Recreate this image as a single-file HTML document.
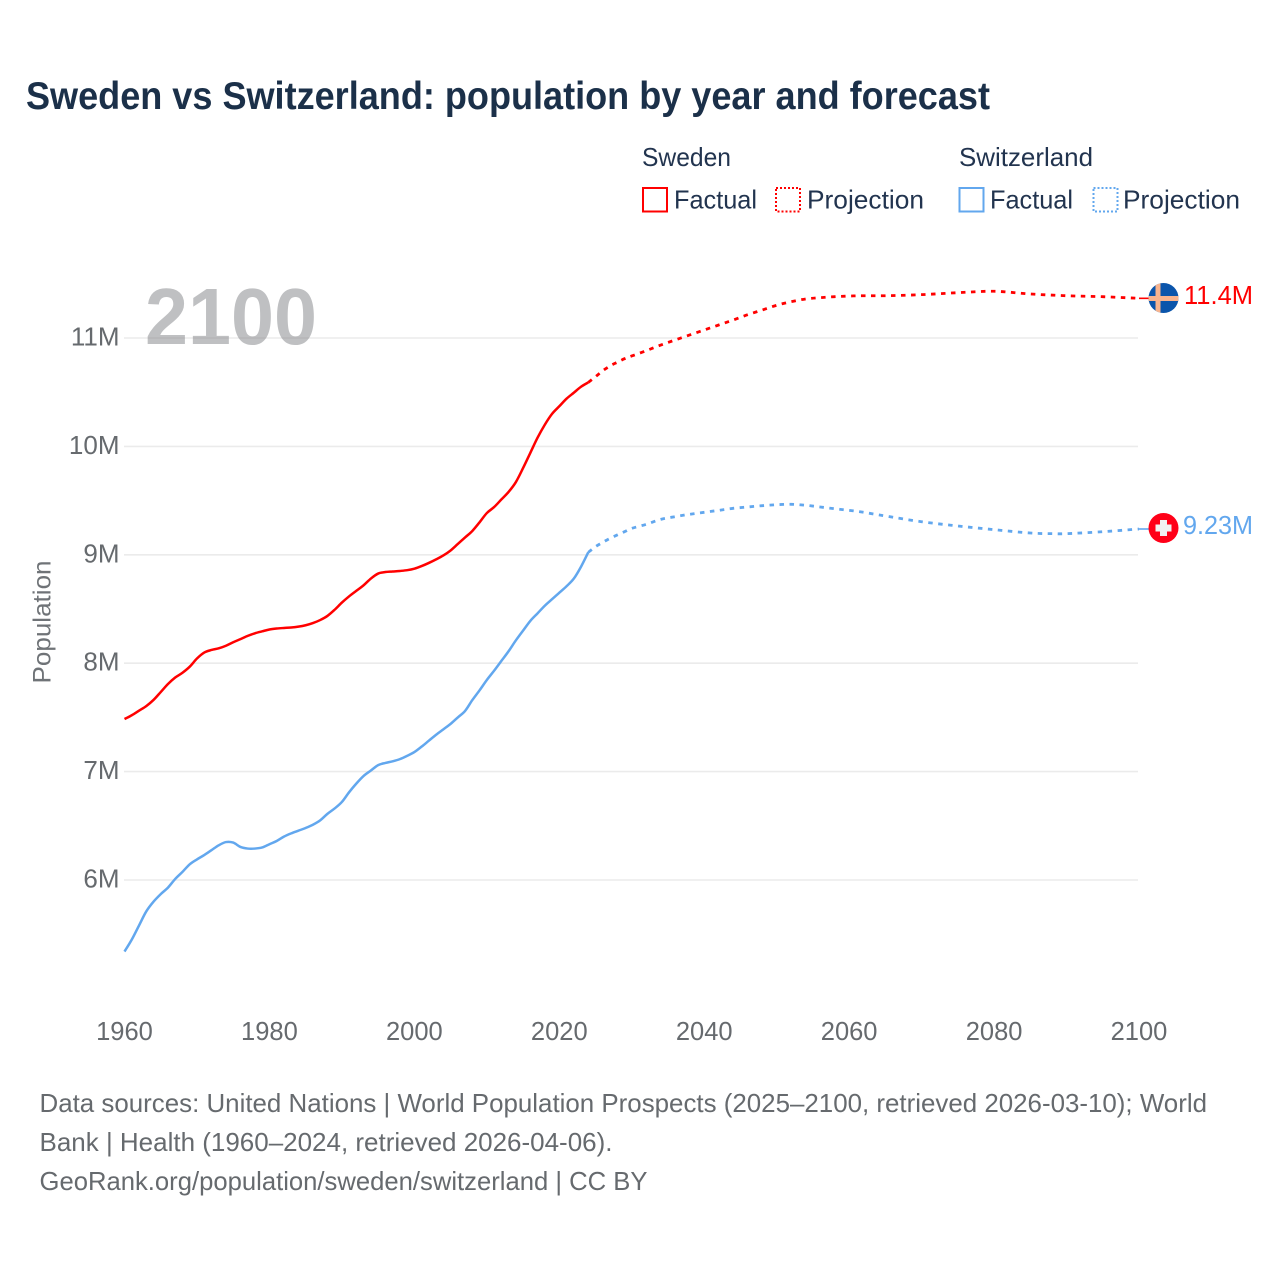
<!DOCTYPE html>
<html lang="en">
<head>
<meta charset="utf-8">
<title>Sweden vs Switzerland: population by year and forecast</title>
<style>
html,body{margin:0;padding:0;background:#fff;width:1280px;height:1280px;overflow:hidden}
svg{display:block}
text{font-family:"Liberation Sans",sans-serif}
.leg{font-size:26px;fill:#22344f}
.foot{font-size:26px;fill:#666a6e}
</style>
</head>
<body>
<svg id="chart" xmlns="http://www.w3.org/2000/svg" width="1280" height="1280" viewBox="0 0 1280 1280">
  <rect x="0" y="0" width="1280" height="1280" fill="#fff"/>
  <text x="26" y="109" font-size="38.5" font-weight="700" fill="#1b3049" textLength="964" lengthAdjust="spacingAndGlyphs">Sweden vs Switzerland: population by year and forecast</text>

  <g>
    <text class="leg" x="642" y="166" textLength="89" lengthAdjust="spacingAndGlyphs">Sweden</text>
    <text class="leg" x="959" y="166" textLength="134" lengthAdjust="spacingAndGlyphs">Switzerland</text>
    <g>
      <rect x="643" y="188" width="24" height="23.5" fill="none" stroke="#ff0000" stroke-width="2"/>
      <text class="leg" x="674" y="208.500" textLength="83" lengthAdjust="spacingAndGlyphs">Factual</text>
    </g>
    <g>
      <rect x="776" y="188" width="24" height="23.5" fill="none" stroke="#ff0000" stroke-width="2" stroke-dasharray="2 2"/>
      <text class="leg" x="807" y="208.500" textLength="117" lengthAdjust="spacingAndGlyphs">Projection</text>
    </g>
    <g>
      <rect x="959.5" y="188" width="24" height="23.5" fill="none" stroke="#62a7ee" stroke-width="2"/>
      <text class="leg" x="990" y="208.500" textLength="83" lengthAdjust="spacingAndGlyphs">Factual</text>
    </g>
    <g>
      <rect x="1093.5" y="188" width="24" height="23.5" fill="none" stroke="#62a7ee" stroke-width="2" stroke-dasharray="2 2"/>
      <text class="leg" x="1123" y="208.500" textLength="117" lengthAdjust="spacingAndGlyphs">Projection</text>
    </g>
  </g>

  <g id="grid"></g>
  <g id="yticks"></g>
  <g id="xticks"></g>
  <text transform="translate(50.5,622) rotate(-90)" text-anchor="middle" font-size="25" fill="#6f7377" textLength="123" lengthAdjust="spacingAndGlyphs">Population</text>

  <text x="145" y="344" font-size="80" font-weight="700" fill="#7f8185" fill-opacity="0.5" textLength="172" lengthAdjust="spacingAndGlyphs">2100</text>

  <g id="series"></g>

  <g>
    <clipPath id="clip-se"><circle cx="1163.500" cy="298" r="15"/></clipPath>
    <g clip-path="url(#clip-se)">
      <rect x="1148" y="283" width="31" height="30" fill="#0b55ab"/>
      <rect x="1155.5" y="283" width="5" height="30" fill="#f8b48e"/>
      <rect x="1148" y="296" width="31" height="5" fill="#f8b48e"/>
    </g>
  </g>
  <text x="1184" y="304" font-size="25.500" fill="#ff0000" textLength="69" lengthAdjust="spacingAndGlyphs">11.4M</text>

  <g>
    <circle cx="1163.5" cy="528" r="15" fill="#ff0018"/>
    <rect x="1160" y="520" width="7" height="16" fill="#f1f1f1"/>
    <rect x="1155.5" y="524.5" width="16" height="7" fill="#f1f1f1"/>
  </g>
  <text x="1183" y="534" font-size="25.500" fill="#62a7ee" textLength="70" lengthAdjust="spacingAndGlyphs">9.23M</text>

  <g>
    <text class="foot" x="39.5" y="1112" textLength="1167.5" lengthAdjust="spacingAndGlyphs">Data sources: United Nations | World Population Prospects (2025–2100, retrieved 2026-03-10); World</text>
    <text class="foot" x="39.5" y="1151" textLength="573" lengthAdjust="spacingAndGlyphs">Bank | Health (1960–2024, retrieved 2026-04-06).</text>
    <text class="foot" x="39.5" y="1190" textLength="608" lengthAdjust="spacingAndGlyphs">GeoRank.org/population/sweden/switzerland | CC BY</text>
  </g>
</svg>
<script>
const yTickValues = [6, 7, 8, 9, 10, 11];
const yTickLabels = ["6M", "7M", "8M", "9M", "10M", "11M"];
const xTickValues = [1960, 1980, 2000, 2020, 2040, 2060, 2080, 2100];
const xTickLabels = ["1960", "1980", "2000", "2020", "2040", "2060", "2080", "2100"];

const factualYears = [1960,1961,1962,1963,1964,1965,1966,1967,1968,1969,1970,1971,1972,1973,1974,1975,1976,1977,1978,1979,1980,1981,1982,1983,1984,1985,1986,1987,1988,1989,1990,1991,1992,1993,1994,1995,1996,1997,1998,1999,2000,2001,2002,2003,2004,2005,2006,2007,2008,2009,2010,2011,2012,2013,2014,2015,2016,2017,2018,2019,2020,2021,2022,2023,2024];
const swedenFactual = [7.485,7.52,7.562,7.604,7.661,7.734,7.808,7.868,7.912,7.968,8.043,8.098,8.122,8.137,8.161,8.193,8.222,8.252,8.276,8.294,8.311,8.32,8.325,8.329,8.337,8.35,8.37,8.398,8.436,8.493,8.559,8.617,8.668,8.719,8.781,8.827,8.841,8.846,8.851,8.858,8.872,8.896,8.925,8.958,8.994,9.04,9.1,9.16,9.22,9.3,9.385,9.44,9.51,9.58,9.67,9.8,9.94,10.08,10.2,10.3,10.37,10.44,10.495,10.55,10.59];
const switzerlandFactual = [5.34,5.45,5.58,5.71,5.8,5.87,5.93,6.01,6.075,6.145,6.19,6.23,6.275,6.32,6.35,6.345,6.305,6.29,6.29,6.3,6.33,6.36,6.4,6.43,6.455,6.48,6.51,6.55,6.61,6.66,6.72,6.81,6.89,6.96,7.01,7.06,7.08,7.095,7.115,7.145,7.18,7.23,7.285,7.34,7.39,7.44,7.5,7.56,7.66,7.75,7.845,7.93,8.02,8.11,8.21,8.3,8.39,8.46,8.53,8.59,8.65,8.71,8.78,8.89,9.023];

const swedenProjectionYears = [2024,2025,2026,2027,2028,2029,2030,2032,2034,2036,2038,2040,2042,2044,2046,2048,2050,2052,2054,2056,2058,2060,2062,2065,2070,2075,2080,2085,2090,2095,2100];
const swedenProjection = [10.59,10.643,10.698,10.742,10.776,10.809,10.834,10.883,10.935,10.982,11.028,11.074,11.12,11.166,11.215,11.258,11.302,11.335,11.36,11.372,11.381,11.387,11.39,11.39,11.4,11.418,11.431,11.406,11.39,11.381,11.366];
const switzerlandProjectionYears = [2024,2025,2026,2027,2028,2029,2030,2032,2034,2036,2038,2040,2042,2044,2046,2048,2050,2052,2054,2056,2058,2060,2062,2065,2070,2075,2080,2085,2088,2090,2095,2100];
const switzerlandProjection = [9.023,9.075,9.115,9.152,9.183,9.213,9.244,9.281,9.327,9.352,9.374,9.392,9.41,9.429,9.441,9.453,9.462,9.466,9.457,9.441,9.425,9.41,9.392,9.358,9.305,9.266,9.232,9.201,9.195,9.195,9.213,9.238];

const SVGNS = "http://www.w3.org/2000/svg";
function xScale(year) { return 124.5 + (year - 1960) * (1139 - 124.5) / 140; }
function yScale(v) { return 880 - (v - 6) * 108.4; }
function linePath(years, values) {
  const pts = years.map(function (yr, i) { return [xScale(yr), yScale(values[i])]; });
  let d = "M" + pts[0][0].toFixed(2) + " " + pts[0][1].toFixed(2);
  for (let i = 0; i < pts.length - 1; i++) {
    const p0 = pts[Math.max(i - 1, 0)], p1 = pts[i], p2 = pts[i + 1], p3 = pts[Math.min(i + 2, pts.length - 1)];
    const c1x = p1[0] + (p2[0] - p0[0]) / 6, c1y = p1[1] + (p2[1] - p0[1]) / 6;
    const c2x = p2[0] - (p3[0] - p1[0]) / 6, c2y = p2[1] - (p3[1] - p1[1]) / 6;
    d += "C" + c1x.toFixed(2) + " " + c1y.toFixed(2) + " " + c2x.toFixed(2) + " " + c2y.toFixed(2) + " " + p2[0].toFixed(2) + " " + p2[1].toFixed(2);
  }
  return d;
}
function drawLine(name, years, values, color, dash) {
  const p = document.createElementNS(SVGNS, "path");
  
  
  p.setAttribute("d", linePath(years, values));
  p.setAttribute("fill", "none");
  p.setAttribute("stroke", color);
  p.setAttribute("stroke-width", dash ? "2.8" : "2.5");
  p.setAttribute("stroke-linejoin", "round");
  if (dash) p.setAttribute("stroke-dasharray", dash);
  document.getElementById("series").appendChild(p);
}
function drawConnector(name, year, value, color) {
  const c = document.createElementNS(SVGNS, "line");
  
  
  c.setAttribute("x1", xScale(year));
  c.setAttribute("x2", xScale(year) + 10);
  c.setAttribute("y1", yScale(value));
  c.setAttribute("y2", yScale(value));
  c.setAttribute("stroke", color);
  c.setAttribute("stroke-width", "1.6");
  document.getElementById("series").appendChild(c);
}

yTickValues.forEach(function (v, i) {
  const g = document.createElementNS(SVGNS, "line");
  
  
  g.setAttribute("x1", "124");
  g.setAttribute("x2", "1138");
  g.setAttribute("y1", yScale(v));
  g.setAttribute("y2", yScale(v));
  g.setAttribute("stroke", "#ebebeb");
  g.setAttribute("stroke-width", "1.6");
  document.getElementById("grid").appendChild(g);

  const t = document.createElementNS(SVGNS, "text");
  
  
  t.setAttribute("x", "119.5");
  t.setAttribute("y", yScale(v) + 7.5);
  t.setAttribute("text-anchor", "end");
  t.setAttribute("font-size", "26");
  t.setAttribute("fill", "#666a6e");
  t.textContent = yTickLabels[i];
  document.getElementById("yticks").appendChild(t);
});

xTickValues.forEach(function (yr, i) {
  const t = document.createElementNS(SVGNS, "text");
  
  
  t.setAttribute("x", xScale(yr));
  t.setAttribute("y", "1040");
  t.setAttribute("text-anchor", "middle");
  t.setAttribute("font-size", "25.5");
  t.setAttribute("fill", "#666a6e");
  t.textContent = xTickLabels[i];
  document.getElementById("xticks").appendChild(t);
});

drawLine("line-sweden-factual", factualYears, swedenFactual, "#ff0000");
drawLine("line-sweden-projection", swedenProjectionYears, swedenProjection, "#ff0000", "4.5 5.5");
drawLine("line-switzerland-factual", factualYears, switzerlandFactual, "#62a7ee");
drawLine("line-switzerland-projection", switzerlandProjectionYears, switzerlandProjection, "#62a7ee", "4.5 5.5");
drawConnector("connector-sweden", 2100, swedenProjection[swedenProjection.length - 1], "#ff0000");
drawConnector("connector-switzerland", 2100, switzerlandProjection[switzerlandProjection.length - 1], "#62a7ee");
</script>
</body>
</html>
